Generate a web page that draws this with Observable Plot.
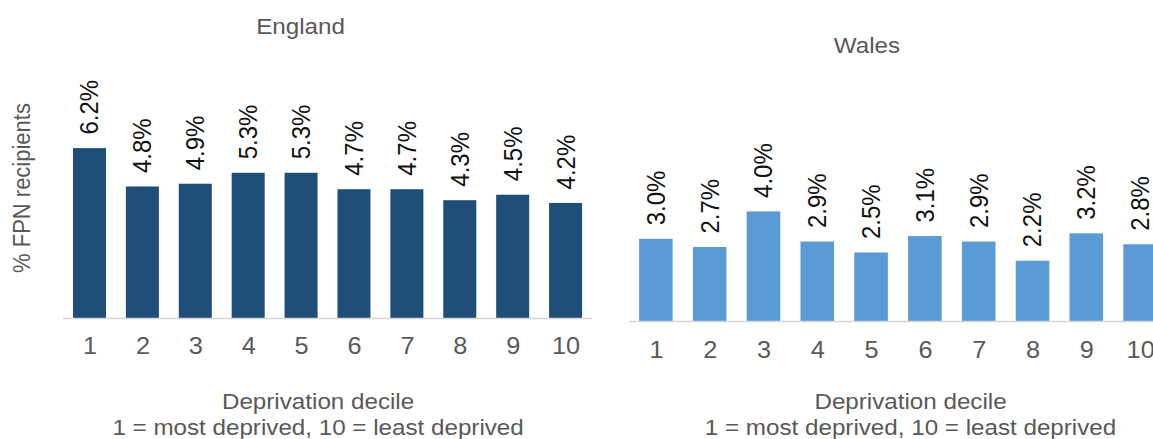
<!DOCTYPE html>
<html>
<head>
<meta charset="utf-8">
<script src="https://cdn.jsdelivr.net/npm/d3@7"></script>
<script src="https://cdn.jsdelivr.net/npm/@observablehq/plot@0.6"></script>
<style>
  html, body { margin: 0; padding: 0; background: #fff; overflow: hidden; width: 1153px; height: 439px; }
  #wrap { position: relative; width: 1100px; height: 439px; transform: scaleX(1.1); transform-origin: 0 0; }
  #wrap svg { max-width: none !important; }
</style>
</head>
<body>
<div id="wrap"></div>
<script>
const deciles = [1, 2, 3, 4, 5, 6, 7, 8, 9, 10];
const englandValues = [6.2, 4.8, 4.9, 5.3, 5.3, 4.7, 4.7, 4.3, 4.5, 4.2];
const walesValues = [3.0, 2.7, 4.0, 2.9, 2.5, 3.1, 2.9, 2.2, 3.2, 2.8];
const panelTitles = ["England", "Wales"];
const yAxisLabel = "% FPN recipients";
const xAxisLabel = "Deprivation decile\n1 = most deprived, 10 = least deprived";

const FONT = "'Liberation Sans', Arial, sans-serif";

function panel(o) {
  const data = deciles.map((d, i) => ({decile: d, value: o.values[i]}));
  const marks = [
    Plot.barY(data, {x: "decile", y: "value", fill: o.color}),
    Plot.ruleY([0], {stroke: "#d6d6d6", strokeWidth: 1.5}),
    Plot.text(data, {
      x: "decile", y: "value",
      text: d => d.value.toFixed(1) + "%",
      rotate: -90, textAnchor: "start", lineAnchor: "middle",
      dy: -14, fontSize: 24, fill: "#111"
    }),
    Plot.text([o.title], {
      text: d => d, frameAnchor: "top", lineAnchor: "bottom",
      dx: o.titleDx, dy: o.titleDy, fontSize: 22, fill: "#595959"
    }),
    Plot.text([xAxisLabel], {
      text: d => d, frameAnchor: "bottom", lineAnchor: "top", lineHeight: 1.2,
      dx: o.labelDx, dy: o.labelDy, fontSize: 22, fill: "#595959"
    })
  ];
  if (o.yLabel) {
    marks.push(Plot.text([o.yLabel], {
      text: d => d, frameAnchor: "left", rotate: -90,
      textAnchor: "middle", lineAnchor: "middle",
      dx: o.yLabelDx, dy: o.yLabelDy, fontSize: 22, fill: "#595959"
    }));
  }
  const svg = Plot.plot({
    width: o.width,
    height: 439,
    marginLeft: o.marginLeft,
    marginRight: o.marginRight,
    marginTop: o.marginTop,
    marginBottom: o.marginBottom,
    x: {type: "band", domain: deciles, paddingInner: 0.376, paddingOuter: 0.188, round: false,
        tickSize: 0, tickPadding: o.tickPadding, label: null},
    y: {domain: [0, 7], axis: null},
    style: {fontFamily: FONT, fontSize: "23px", color: "#595959", background: "transparent",
            position: "absolute", left: o.left + "px", top: "0px"},
    marks
  });
  return svg;
}

const wrap = document.getElementById("wrap");
wrap.appendChild(panel({
  values: englandValues, title: panelTitles[0], color: "#1F4E79",
  left: 0, width: 545, marginLeft: 57.3, marginRight: 6.8, marginTop: 126.2, marginBottom: 121,
  tickPadding: 19, titleDx: -25, titleDy: -92.7, labelDx: -9.1, labelDy: 71.4,
  yLabel: yAxisLabel, yLabelDx: -37.3, yLabelDy: -34.6
}));
wrap.appendChild(panel({
  values: walesValues, title: panelTitles[1], color: "#5B9BD5",
  left: 545, width: 520, marginLeft: 26.8, marginRight: 4.1, marginTop: 129.2, marginBottom: 118,
  tickPadding: 20, titleDx: -28.7, titleDy: -77.2, labelDx: 10.9, labelDy: 68.4
}));
</script>
</body>
</html>
